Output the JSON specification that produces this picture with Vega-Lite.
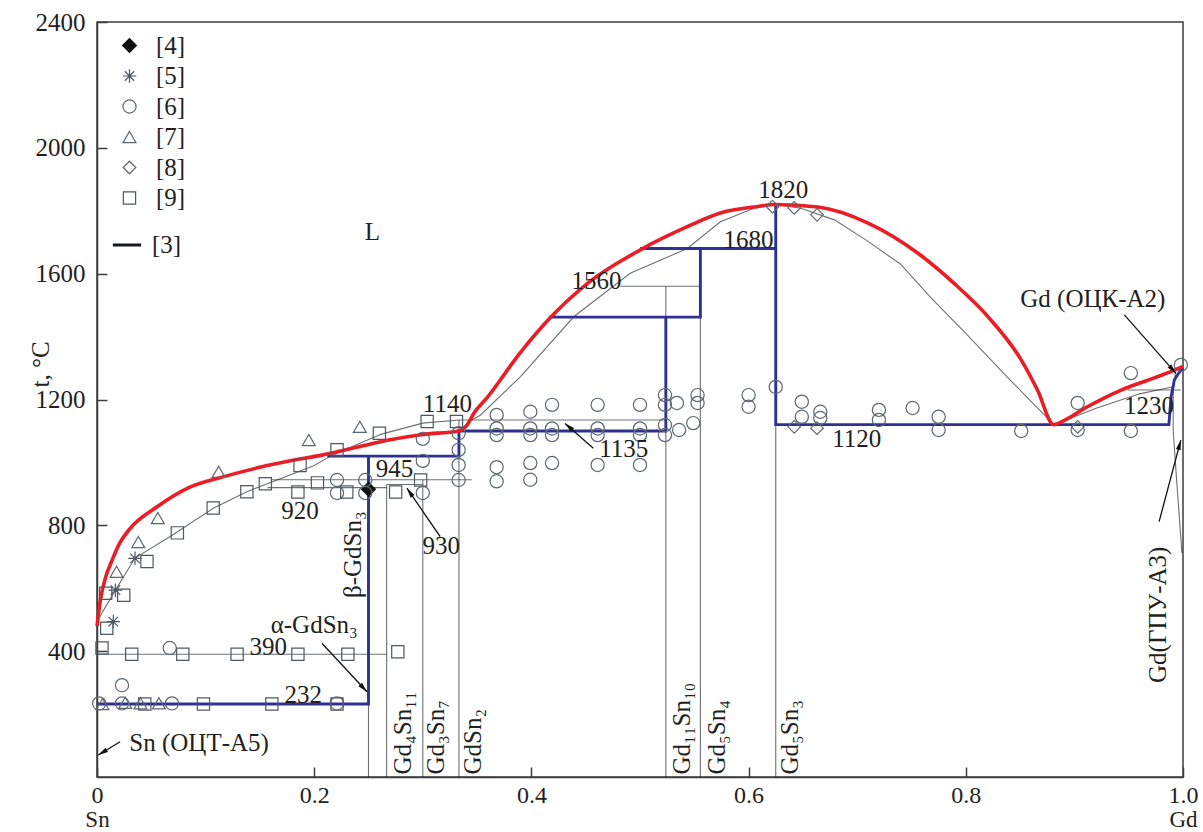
{
  "$schema": "https://vega.github.io/schema/vega-lite/v6.json",
  "autosize": {"type": "none"},
  "padding": {"left": 97, "top": 22, "right": 20, "bottom": 55},
  "width": 1086,
  "height": 755,
  "background": "white",
  "config": {
    "font": "Liberation Serif, Times New Roman, serif",
    "view": {"stroke": "#3d3d3d", "strokeWidth": 1.5},
    "legend": {"labelFont": "Liberation Serif, Times New Roman, serif", "labelFontSize": 25, "labelColor": "#231f20", "padding": 0}
  },
  "resolve": {"axis": {"x": "independent"}},
  "datasets": {
    "red": [
      {"o": 1, "x": 0, "t": 480}, {"o": 2, "x": 0.003, "t": 560}, {"o": 3, "x": 0.008, "t": 636},
      {"o": 4, "x": 0.014, "t": 690}, {"o": 5, "x": 0.021, "t": 744}, {"o": 6, "x": 0.03, "t": 788},
      {"o": 7, "x": 0.055, "t": 858}, {"o": 8, "x": 0.086, "t": 922}, {"o": 9, "x": 0.116, "t": 954},
      {"o": 10, "x": 0.147, "t": 982}, {"o": 11, "x": 0.178, "t": 1005}, {"o": 12, "x": 0.208, "t": 1024},
      {"o": 13, "x": 0.24, "t": 1049}, {"o": 14, "x": 0.27, "t": 1072}, {"o": 15, "x": 0.3, "t": 1089},
      {"o": 16, "x": 0.333, "t": 1100}, {"o": 17, "x": 0.341, "t": 1120}, {"o": 18, "x": 0.347, "t": 1156},
      {"o": 19, "x": 0.359, "t": 1205}, {"o": 20, "x": 0.39, "t": 1350}, {"o": 21, "x": 0.418, "t": 1462},
      {"o": 22, "x": 0.452, "t": 1570}, {"o": 23, "x": 0.5, "t": 1675}, {"o": 24, "x": 0.544, "t": 1750},
      {"o": 25, "x": 0.574, "t": 1793}, {"o": 26, "x": 0.605, "t": 1812}, {"o": 27, "x": 0.625, "t": 1820},
      {"o": 28, "x": 0.664, "t": 1812}, {"o": 29, "x": 0.71, "t": 1761}, {"o": 30, "x": 0.756, "t": 1665},
      {"o": 31, "x": 0.789, "t": 1570}, {"o": 32, "x": 0.82, "t": 1465}, {"o": 33, "x": 0.851, "t": 1326},
      {"o": 34, "x": 0.866, "t": 1230}, {"o": 35, "x": 0.881, "t": 1120}, {"o": 36, "x": 0.8875, "t": 1128},
      {"o": 37, "x": 0.912, "t": 1177}, {"o": 38, "x": 0.943, "t": 1230}, {"o": 39, "x": 0.973, "t": 1268},
      {"o": 40, "x": 0.99, "t": 1290}, {"o": 41, "x": 1.0, "t": 1305}
    ],
    "blue": [
      {"g": "B1", "o": 1, "x": 0, "t": 232}, {"g": "B1", "o": 2, "x": 0.25, "t": 232}, {"g": "B1", "o": 3, "x": 0.25, "t": 1020},
      {"g": "B2", "o": 1, "x": 0.212, "t": 1020}, {"g": "B2", "o": 2, "x": 0.3333, "t": 1020}, {"g": "B2", "o": 3, "x": 0.3333, "t": 1100},
      {"g": "B2", "o": 4, "x": 0.5238, "t": 1100}, {"g": "B2", "o": 5, "x": 0.5238, "t": 1462},
      {"g": "B3", "o": 1, "x": 0.416, "t": 1462}, {"g": "B3", "o": 2, "x": 0.5556, "t": 1462}, {"g": "B3", "o": 3, "x": 0.5556, "t": 1680},
      {"g": "B4", "o": 1, "x": 0.5, "t": 1680}, {"g": "B4", "o": 2, "x": 0.625, "t": 1680},
      {"g": "B5", "o": 1, "x": 0.625, "t": 1820}, {"g": "B5", "o": 2, "x": 0.625, "t": 1120}, {"g": "B5", "o": 3, "x": 0.987, "t": 1120},
      {"g": "B5", "o": 4, "x": 0.989, "t": 1208}, {"g": "B5", "o": 5, "x": 0.992, "t": 1262}, {"g": "B5", "o": 6, "x": 0.996, "t": 1284},
      {"g": "B5", "o": 7, "x": 1.0, "t": 1300}
    ],
    "gray": [
      {"g": "G1", "o": 1, "x": 0, "t": 494, "ref": "[3]"}, {"g": "G1", "o": 2, "x": 0.017, "t": 594, "ref": "[3]"},
      {"g": "G1", "o": 3, "x": 0.035, "t": 696, "ref": "[3]"}, {"g": "G1", "o": 4, "x": 0.07, "t": 770, "ref": "[3]"},
      {"g": "G1", "o": 5, "x": 0.107, "t": 854, "ref": "[3]"}, {"g": "G1", "o": 6, "x": 0.138, "t": 907, "ref": "[3]"},
      {"g": "G1", "o": 7, "x": 0.17, "t": 950, "ref": "[3]"}, {"g": "G1", "o": 8, "x": 0.2, "t": 990, "ref": "[3]"},
      {"g": "G1", "o": 9, "x": 0.215, "t": 1020, "ref": "[3]"}, {"g": "G1", "o": 10, "x": 0.24, "t": 1058, "ref": "[3]"},
      {"g": "G1", "o": 11, "x": 0.262, "t": 1090, "ref": "[3]"}, {"g": "G1", "o": 12, "x": 0.3, "t": 1125, "ref": "[3]"},
      {"g": "G1", "o": 13, "x": 0.3333, "t": 1135, "ref": "[3]"}, {"g": "G1", "o": 14, "x": 0.5238, "t": 1135, "ref": "[3]"},
      {"g": "G3", "o": 1, "x": 0.345, "t": 1135, "ref": "[3]"}, {"g": "G3", "o": 2, "x": 0.353, "t": 1150, "ref": "[3]"},
      {"g": "G3", "o": 3, "x": 0.39, "t": 1273, "ref": "[3]"}, {"g": "G3", "o": 4, "x": 0.439, "t": 1463, "ref": "[3]"},
      {"g": "G3", "o": 5, "x": 0.491, "t": 1601, "ref": "[3]"}, {"g": "G3", "o": 6, "x": 0.5435, "t": 1680, "ref": "[3]"},
      {"g": "G3", "o": 7, "x": 0.574, "t": 1765, "ref": "[3]"}, {"g": "G3", "o": 8, "x": 0.605, "t": 1808, "ref": "[3]"},
      {"g": "G3", "o": 9, "x": 0.625, "t": 1820, "ref": "[3]"}, {"g": "G3", "o": 10, "x": 0.648, "t": 1808, "ref": "[3]"},
      {"g": "G3", "o": 11, "x": 0.679, "t": 1771, "ref": "[3]"}, {"g": "G3", "o": 12, "x": 0.709, "t": 1705, "ref": "[3]"},
      {"g": "G3", "o": 13, "x": 0.74, "t": 1630, "ref": "[3]"}, {"g": "G3", "o": 14, "x": 0.768, "t": 1523, "ref": "[3]"},
      {"g": "G3", "o": 15, "x": 0.8, "t": 1410, "ref": "[3]"}, {"g": "G3", "o": 16, "x": 0.84, "t": 1265, "ref": "[3]"},
      {"g": "G3", "o": 17, "x": 0.881, "t": 1120, "ref": "[3]"},
      {"g": "G4", "o": 1, "x": 0.881, "t": 1120, "ref": "[3]"}, {"g": "G4", "o": 2, "x": 0.92, "t": 1172, "ref": "[3]"},
      {"g": "G4", "o": 3, "x": 0.96, "t": 1218, "ref": "[3]"}, {"g": "G4", "o": 4, "x": 0.99, "t": 1240, "ref": "[3]"},
      {"g": "G5", "o": 1, "x": 0.949, "t": 1230, "ref": "[3]"}, {"g": "G5", "o": 2, "x": 0.998, "t": 1230, "ref": "[3]"},
      {"g": "G6", "o": 1, "x": 0.993, "t": 1285, "ref": "[3]"}, {"g": "G6", "o": 2, "x": 0.991, "t": 1225, "ref": "[3]"},
      {"g": "G6", "o": 3, "x": 0.991, "t": 1100, "ref": "[3]"}, {"g": "G6", "o": 4, "x": 0.994, "t": 950, "ref": "[3]"},
      {"g": "G6", "o": 5, "x": 0.999, "t": 712, "ref": "[3]"},
      {"g": "G7", "o": 1, "x": 0, "t": 390, "ref": "[3]"}, {"g": "G7", "o": 2, "x": 0.2667, "t": 390, "ref": "[3]"},
      {"g": "G8", "o": 1, "x": 0.157, "t": 920, "ref": "[3]"}, {"g": "G8", "o": 2, "x": 0.2667, "t": 920, "ref": "[3]"},
      {"g": "G9", "o": 1, "x": 0.2667, "t": 930, "ref": "[3]"}, {"g": "G9", "o": 2, "x": 0.3, "t": 930, "ref": "[3]"},
      {"g": "G10", "o": 1, "x": 0.16, "t": 945, "ref": "[3]"}, {"g": "G10", "o": 2, "x": 0.345, "t": 945, "ref": "[3]"},
      {"g": "G11", "o": 1, "x": 0.25, "t": 0, "ref": "[3]"}, {"g": "G11", "o": 2, "x": 0.25, "t": 945, "ref": "[3]"},
      {"g": "G12", "o": 1, "x": 0.2667, "t": 0, "ref": "[3]"}, {"g": "G12", "o": 2, "x": 0.2667, "t": 930, "ref": "[3]"},
      {"g": "G13", "o": 1, "x": 0.3, "t": 0, "ref": "[3]"}, {"g": "G13", "o": 2, "x": 0.3, "t": 945, "ref": "[3]"},
      {"g": "G14", "o": 1, "x": 0.3333, "t": 0, "ref": "[3]"}, {"g": "G14", "o": 2, "x": 0.3333, "t": 1135, "ref": "[3]"},
      {"g": "G15", "o": 1, "x": 0.5238, "t": 0, "ref": "[3]"}, {"g": "G15", "o": 2, "x": 0.5238, "t": 1560, "ref": "[3]"},
      {"g": "G16", "o": 1, "x": 0.5556, "t": 0, "ref": "[3]"}, {"g": "G16", "o": 2, "x": 0.5556, "t": 1680, "ref": "[3]"},
      {"g": "G17", "o": 1, "x": 0.625, "t": 0, "ref": "[3]"}, {"g": "G17", "o": 2, "x": 0.625, "t": 1820, "ref": "[3]"},
      {"g": "G18", "o": 1, "x": 0.482, "t": 1560, "ref": "[3]"}, {"g": "G18", "o": 2, "x": 0.5556, "t": 1560, "ref": "[3]"}
    ],
    "pts": [
      {"src": "[4]", "x": 0.25, "t": 915},
      {"src": "[5]", "x": 0.017, "t": 594}, {"src": "[5]", "x": 0.015, "t": 494}, {"src": "[5]", "x": 0.035, "t": 695},
      {"src": "[6]", "x": 0.002, "t": 234}, {"src": "[6]", "x": 0.023, "t": 292}, {"src": "[6]", "x": 0.023, "t": 234},
      {"src": "[6]", "x": 0.067, "t": 410}, {"src": "[6]", "x": 0.069, "t": 234}, {"src": "[6]", "x": 0.221, "t": 234},
      {"src": "[6]", "x": 0.221, "t": 944}, {"src": "[6]", "x": 0.221, "t": 903}, {"src": "[6]", "x": 0.247, "t": 944},
      {"src": "[6]", "x": 0.247, "t": 903}, {"src": "[6]", "x": 0.3, "t": 1075}, {"src": "[6]", "x": 0.3, "t": 1005},
      {"src": "[6]", "x": 0.3, "t": 903}, {"src": "[6]", "x": 0.333, "t": 1093}, {"src": "[6]", "x": 0.333, "t": 1040},
      {"src": "[6]", "x": 0.333, "t": 992}, {"src": "[6]", "x": 0.333, "t": 944},
      {"src": "[6]", "x": 0.368, "t": 1151}, {"src": "[6]", "x": 0.368, "t": 1108}, {"src": "[6]", "x": 0.368, "t": 1087},
      {"src": "[6]", "x": 0.368, "t": 985}, {"src": "[6]", "x": 0.368, "t": 940},
      {"src": "[6]", "x": 0.399, "t": 1161}, {"src": "[6]", "x": 0.399, "t": 1108}, {"src": "[6]", "x": 0.399, "t": 1087},
      {"src": "[6]", "x": 0.399, "t": 998}, {"src": "[6]", "x": 0.399, "t": 945},
      {"src": "[6]", "x": 0.419, "t": 1183}, {"src": "[6]", "x": 0.419, "t": 1108}, {"src": "[6]", "x": 0.419, "t": 1087},
      {"src": "[6]", "x": 0.419, "t": 998},
      {"src": "[6]", "x": 0.461, "t": 1183}, {"src": "[6]", "x": 0.461, "t": 1108}, {"src": "[6]", "x": 0.461, "t": 1087},
      {"src": "[6]", "x": 0.461, "t": 992},
      {"src": "[6]", "x": 0.5, "t": 1183}, {"src": "[6]", "x": 0.5, "t": 1108}, {"src": "[6]", "x": 0.5, "t": 1087},
      {"src": "[6]", "x": 0.5, "t": 992},
      {"src": "[6]", "x": 0.523, "t": 1214}, {"src": "[6]", "x": 0.523, "t": 1183}, {"src": "[6]", "x": 0.523, "t": 1119},
      {"src": "[6]", "x": 0.523, "t": 1087}, {"src": "[6]", "x": 0.534, "t": 1189}, {"src": "[6]", "x": 0.536, "t": 1103},
      {"src": "[6]", "x": 0.553, "t": 1214}, {"src": "[6]", "x": 0.553, "t": 1189}, {"src": "[6]", "x": 0.549, "t": 1125},
      {"src": "[6]", "x": 0.6, "t": 1214}, {"src": "[6]", "x": 0.6, "t": 1177}, {"src": "[6]", "x": 0.625, "t": 1240},
      {"src": "[6]", "x": 0.649, "t": 1193}, {"src": "[6]", "x": 0.649, "t": 1145}, {"src": "[6]", "x": 0.666, "t": 1161},
      {"src": "[6]", "x": 0.666, "t": 1141}, {"src": "[6]", "x": 0.72, "t": 1167}, {"src": "[6]", "x": 0.72, "t": 1135},
      {"src": "[6]", "x": 0.751, "t": 1173}, {"src": "[6]", "x": 0.775, "t": 1145}, {"src": "[6]", "x": 0.775, "t": 1103},
      {"src": "[6]", "x": 0.851, "t": 1100}, {"src": "[6]", "x": 0.903, "t": 1189}, {"src": "[6]", "x": 0.903, "t": 1103},
      {"src": "[6]", "x": 0.952, "t": 1284}, {"src": "[6]", "x": 0.952, "t": 1100}, {"src": "[6]", "x": 0.998, "t": 1310},
      {"src": "[7]", "x": 0.005, "t": 232}, {"src": "[7]", "x": 0.026, "t": 236}, {"src": "[7]", "x": 0.04, "t": 234},
      {"src": "[7]", "x": 0.057, "t": 234}, {"src": "[7]", "x": 0.018, "t": 652}, {"src": "[7]", "x": 0.038, "t": 747},
      {"src": "[7]", "x": 0.056, "t": 823}, {"src": "[7]", "x": 0.112, "t": 970}, {"src": "[7]", "x": 0.195, "t": 1071},
      {"src": "[7]", "x": 0.242, "t": 1113},
      {"src": "[8]", "x": 0.622, "t": 1813}, {"src": "[8]", "x": 0.642, "t": 1809}, {"src": "[8]", "x": 0.663, "t": 1787},
      {"src": "[8]", "x": 0.642, "t": 1113}, {"src": "[8]", "x": 0.663, "t": 1109}, {"src": "[8]", "x": 0.903, "t": 1113},
      {"src": "[9]", "x": 0.0046, "t": 410}, {"src": "[9]", "x": 0.009, "t": 473}, {"src": "[9]", "x": 0.008, "t": 584},
      {"src": "[9]", "x": 0.0246, "t": 578}, {"src": "[9]", "x": 0.046, "t": 685}, {"src": "[9]", "x": 0.074, "t": 776},
      {"src": "[9]", "x": 0.107, "t": 855}, {"src": "[9]", "x": 0.138, "t": 907}, {"src": "[9]", "x": 0.155, "t": 932},
      {"src": "[9]", "x": 0.187, "t": 990}, {"src": "[9]", "x": 0.185, "t": 906}, {"src": "[9]", "x": 0.203, "t": 935},
      {"src": "[9]", "x": 0.221, "t": 1040}, {"src": "[9]", "x": 0.23, "t": 906}, {"src": "[9]", "x": 0.26, "t": 1093},
      {"src": "[9]", "x": 0.275, "t": 906}, {"src": "[9]", "x": 0.298, "t": 944}, {"src": "[9]", "x": 0.304, "t": 1130},
      {"src": "[9]", "x": 0.331, "t": 1130},
      {"src": "[9]", "x": 0.032, "t": 390}, {"src": "[9]", "x": 0.079, "t": 390}, {"src": "[9]", "x": 0.129, "t": 390},
      {"src": "[9]", "x": 0.185, "t": 390}, {"src": "[9]", "x": 0.231, "t": 390}, {"src": "[9]", "x": 0.277, "t": 398},
      {"src": "[9]", "x": 0.044, "t": 232}, {"src": "[9]", "x": 0.098, "t": 232}, {"src": "[9]", "x": 0.161, "t": 232},
      {"src": "[9]", "x": 0.221, "t": 232}
    ],
    "labels": [
      {"txt": "L", "x": 0.2535, "t": 1732},
      {"txt": "1820", "x": 0.632, "t": 1866},
      {"txt": "1680", "x": 0.6, "t": 1707},
      {"txt": "1560", "x": 0.46, "t": 1577},
      {"txt": "1140", "x": 0.3226, "t": 1187},
      {"txt": "1135", "x": 0.485, "t": 1043},
      {"txt": "945", "x": 0.274, "t": 979},
      {"txt": "920", "x": 0.187, "t": 846},
      {"txt": "930", "x": 0.317, "t": 734},
      {"txt": "390", "x": 0.1576, "t": 414},
      {"txt": "232", "x": 0.19, "t": 261},
      {"txt": "α-GdSn₃", "x": 0.2, "t": 484},
      {"txt": "Sn (ОЦТ-А5)", "x": 0.094, "t": 108},
      {"txt": "Gd (ОЦК-А2)", "x": 0.917, "t": 1520},
      {"txt": "1230", "x": 0.9687, "t": 1179},
      {"txt": "1120", "x": 0.6995, "t": 1075}
    ],
    "vlabels": [
      {"txt": "β-GdSn₃", "x": 0.236, "t": 569},
      {"txt": "Gd(ГПУ-А3)", "x": 0.977, "t": 299},
      {"txt": "Gd₄Sn₁₁", "x": 0.282, "t": 8},
      {"txt": "Gd₃Sn₇", "x": 0.3125, "t": 8},
      {"txt": "GdSn₂", "x": 0.3465, "t": 8},
      {"txt": "Gd₁₁Sn₁₀", "x": 0.539, "t": 8},
      {"txt": "Gd₅Sn₄", "x": 0.571, "t": 8},
      {"txt": "Gd₅Sn₃", "x": 0.638, "t": 8}
    ],
    "arrows": [
      {"x": 0.457, "t": 1045, "x2": 0.431, "t2": 1124},
      {"x": 0.316, "t": 764, "x2": 0.2854, "t2": 918},
      {"x": 0.2071, "t": 425, "x2": 0.2486, "t2": 271},
      {"x": 0.0212, "t": 112, "x2": 0.0012, "t2": 70},
      {"x": 0.946, "t": 1469, "x2": 0.9935, "t2": 1283},
      {"x": 0.978, "t": 812, "x2": 0.998, "t2": 1071}
    ]
  },
  "layer": [
    {
      "data": {"name": "gray"},
      "mark": {"type": "line", "strokeWidth": 1.1, "opacity": 0.62},
      "encoding": {
        "x": {
          "field": "x", "type": "quantitative", "scale": {"domain": [0, 1], "nice": false},
          "axis": {
            "title": null, "values": [0, 0.2, 0.4, 0.6, 0.8, 1], "grid": false,
            "tickSize": -10, "tickWidth": 1.5, "tickColor": "#3d3d3d",
            "domainColor": "#3d3d3d", "domainWidth": 1.5,
            "labelPadding": 16, "labelFont": "Liberation Serif, Times New Roman, serif", "labelFontSize": 24, "labelColor": "#231f20",
            "labelFlush": false, "labelOverlap": false,
            "labelExpr": "datum.value == 0 ? '0' : format(datum.value, '.1f')"
          }
        },
        "y": {
          "field": "t", "type": "quantitative", "scale": {"domain": [0, 2400], "nice": false},
          "axis": {
            "title": "t, °C", "values": [400, 800, 1200, 1600, 2000, 2400], "grid": false, "format": "d",
            "tickSize": -10, "tickWidth": 1.5, "tickColor": "#3d3d3d",
            "domainColor": "#3d3d3d", "domainWidth": 1.5,
            "labelPadding": 22, "labelFont": "Liberation Serif, Times New Roman, serif", "labelFontSize": 25, "labelColor": "#231f20",
            "labelFlush": false, "labelOverlap": false,
            "titleFont": "Liberation Serif, Times New Roman, serif", "titleFontSize": 25, "titleFontWeight": "normal", "titleColor": "#231f20",
            "titleAngle": 270, "titleAlign": "center", "titleBaseline": "middle", "titleX": -57, "titleY": 342
          }
        },
        "detail": {"field": "g"},
        "order": {"field": "o", "type": "quantitative"},
        "color": {
          "field": "ref", "type": "nominal",
          "scale": {"domain": ["[3]"], "range": ["#141a20"]},
          "legend": {
            "title": null, "orient": "none", "legendX": 14, "legendY": 207,
            "symbolType": "stroke", "symbolSize": 800, "symbolStrokeWidth": 3, "symbolStrokeColor": "#111111",
            "labelOffset": 9, "symbolOpacity": 1
          }
        }
      }
    },
    {
      "data": {"name": "blue"},
      "mark": {"type": "line", "color": "#2e3192", "strokeWidth": 2.9, "strokeJoin": "miter"},
      "encoding": {
        "x": {
          "field": "x", "type": "quantitative",
          "axis": {
            "title": null, "orient": "bottom", "offset": 22, "values": [0, 1], "grid": false,
            "domain": false, "ticks": false, "labelPadding": 9,
            "labelFont": "Liberation Serif, Times New Roman, serif", "labelFontSize": 23, "labelColor": "#231f20",
            "labelFlush": false, "labelOverlap": false,
            "labelExpr": "datum.value == 0 ? 'Sn' : 'Gd'"
          }
        },
        "y": {"field": "t", "type": "quantitative"},
        "detail": {"field": "g"},
        "order": {"field": "o", "type": "quantitative"}
      }
    },
    {
      "data": {"name": "red"},
      "mark": {"type": "line", "color": "#ec1c24", "strokeWidth": 3.6, "interpolate": "monotone"},
      "encoding": {
        "x": {"field": "x", "type": "quantitative", "axis": null},
        "y": {"field": "t", "type": "quantitative"},
        "order": {"field": "o", "type": "quantitative"}
      }
    },
    {
      "data": {"name": "pts"},
      "mark": {"type": "point", "strokeWidth": 1.2, "opacity": 1},
      "encoding": {
        "x": {"field": "x", "type": "quantitative", "axis": null},
        "y": {"field": "t", "type": "quantitative"},
        "shape": {
          "field": "src", "type": "nominal",
          "scale": {
            "domain": ["[4]", "[5]", "[6]", "[7]", "[8]", "[9]"],
            "range": ["diamond", "M-1,0L1,0M0,-1L0,1M-0.7,-0.7L0.7,0.7M-0.7,0.7L0.7,-0.7", "circle", "triangle-up", "diamond", "square"]
          },
          "legend": {
            "title": null, "orient": "none", "legendX": 20, "legendY": 11,
            "rowPadding": 4.5, "labelOffset": 14, "symbolStrokeWidth": 1.2, "symbolOpacity": 1
          }
        },
        "fill": {
          "field": "src", "type": "nominal",
          "scale": {"domain": ["[4]", "[5]", "[6]", "[7]", "[8]", "[9]"], "range": ["#111111", "transparent", "transparent", "transparent", "transparent", "transparent"]}
        },
        "stroke": {
          "field": "src", "type": "nominal",
          "scale": {"domain": ["[4]", "[5]", "[6]", "[7]", "[8]", "[9]"], "range": ["#111111", "#4d5860", "#5c6870", "#5c6870", "#5c6870", "#4d5860"]}
        },
        "size": {
          "field": "src", "type": "nominal",
          "scale": {"domain": ["[4]", "[5]", "[6]", "[7]", "[8]", "[9]"], "range": [190, 150, 200, 170, 150, 140]}
        }
      }
    },
    {
      "data": {"name": "labels"},
      "mark": {"type": "text", "font": "Liberation Serif, Times New Roman, serif", "fontSize": 25, "fill": "#231f20", "align": "center", "baseline": "middle"},
      "encoding": {
        "x": {"field": "x", "type": "quantitative", "axis": null},
        "y": {"field": "t", "type": "quantitative"},
        "text": {"field": "txt"}
      }
    },
    {
      "data": {"name": "vlabels"},
      "mark": {"type": "text", "font": "Liberation Serif, Times New Roman, serif", "fontSize": 25, "fill": "#231f20", "align": "left", "baseline": "middle", "angle": 270},
      "encoding": {
        "x": {"field": "x", "type": "quantitative", "axis": null},
        "y": {"field": "t", "type": "quantitative"},
        "text": {"field": "txt"}
      }
    },
    {
      "data": {"name": "arrows"},
      "mark": {"type": "rule", "color": "#111111", "strokeWidth": 1.3},
      "encoding": {
        "x": {"field": "x", "type": "quantitative", "axis": null},
        "y": {"field": "t", "type": "quantitative"},
        "x2": {"field": "x2"},
        "y2": {"field": "t2"}
      }
    },
    {
      "data": {"name": "arrows"},
      "transform": [
        {"calculate": "atan2((datum.x2 - datum.x) * 1086, (datum.t2 - datum.t) * 755 / 2400) * 180 / PI", "as": "ang"}
      ],
      "mark": {"type": "point", "shape": "M0,0L0.55,2.2L-0.55,2.2Z", "filled": true, "color": "#111111", "size": 81, "opacity": 1},
      "encoding": {
        "x": {"field": "x2", "type": "quantitative", "axis": null},
        "y": {"field": "t2", "type": "quantitative"},
        "angle": {"field": "ang", "type": "quantitative", "scale": null}
      }
    }
  ]
}
